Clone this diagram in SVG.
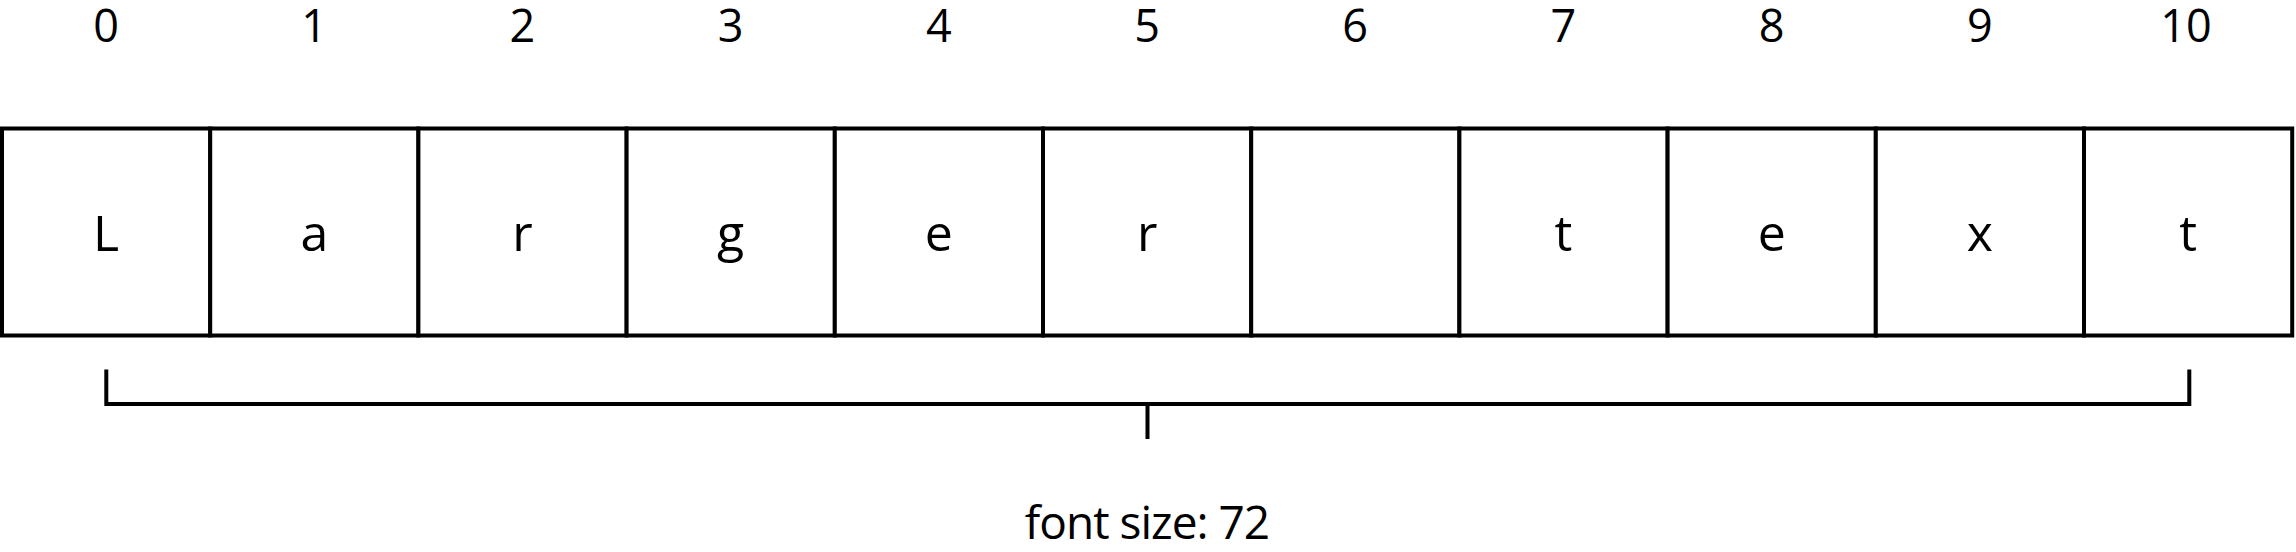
<svg xmlns="http://www.w3.org/2000/svg" width="2296" height="552" viewBox="0 0 2296 552">
<style>
.cell{fill:#fff;stroke:#000;stroke-width:4}
.ch{font-family:"Open Sans","Noto Sans",sans-serif;font-size:50px;text-anchor:middle;fill:#000}
.idx{font-family:"Open Sans","Noto Sans",sans-serif;font-size:45px;text-anchor:middle;fill:#000}
.lbl{font-family:"Open Sans","Noto Sans",sans-serif;font-size:46px;letter-spacing:-1px;text-anchor:middle;fill:#000}
.br{fill:none;stroke:#000;stroke-width:4}
</style>
<rect width="2296" height="552" fill="#fff"/>
<g id="indices">
<text class="idx" x="106" y="42">0</text>
<text class="idx" x="314.2" y="42">1</text>
<text class="idx" x="522.4" y="42">2</text>
<text class="idx" x="730.6" y="42">3</text>
<text class="idx" x="938.8" y="42">4</text>
<text class="idx" x="1147" y="42">5</text>
<text class="idx" x="1355.2" y="42">6</text>
<text class="idx" x="1563.4" y="42">7</text>
<text class="idx" x="1771.6" y="42">8</text>
<text class="idx" x="1979.8" y="42">9</text>
<text class="idx" x="2186" y="42">10</text>
</g>
<g id="cell0"><rect class="cell" x="2" y="128.5" width="208.2" height="207"/><text class="ch" x="106.1" y="251">L</text></g>
<g id="cell1"><rect class="cell" x="210.2" y="128.5" width="208.2" height="207"/><text class="ch" x="314.3" y="251">a</text></g>
<g id="cell2"><rect class="cell" x="418.4" y="128.5" width="208.2" height="207"/><text class="ch" x="522.5" y="251">r</text></g>
<g id="cell3"><rect class="cell" x="626.6" y="128.5" width="208.2" height="207"/><text class="ch" x="730.7" y="251">g</text></g>
<g id="cell4"><rect class="cell" x="834.8" y="128.5" width="208.2" height="207"/><text class="ch" x="938.9" y="251">e</text></g>
<g id="cell5"><rect class="cell" x="1043" y="128.5" width="208.2" height="207"/><text class="ch" x="1147.1" y="251">r</text></g>
<g id="cell6"><rect class="cell" x="1251.2" y="128.5" width="208.2" height="207"/></g>
<g id="cell7"><rect class="cell" x="1459.4" y="128.5" width="208.2" height="207"/><text class="ch" x="1563.5" y="251">t</text></g>
<g id="cell8"><rect class="cell" x="1667.6" y="128.5" width="208.2" height="207"/><text class="ch" x="1771.7" y="251">e</text></g>
<g id="cell9"><rect class="cell" x="1875.8" y="128.5" width="208.2" height="207"/><text class="ch" x="1979.9" y="251">x</text></g>
<g id="cell10"><rect class="cell" x="2084" y="128.5" width="208.2" height="207"/><text class="ch" x="2188.1" y="251">t</text></g>
<g id="connectors">
<path class="br" d="M106.3 369.5 V404 H2189.3 V369.5 M1147.5 404 V439"/>
</g>
<g id="label"><text class="lbl" x="1147" y="539">font size: 72</text></g>
</svg>
